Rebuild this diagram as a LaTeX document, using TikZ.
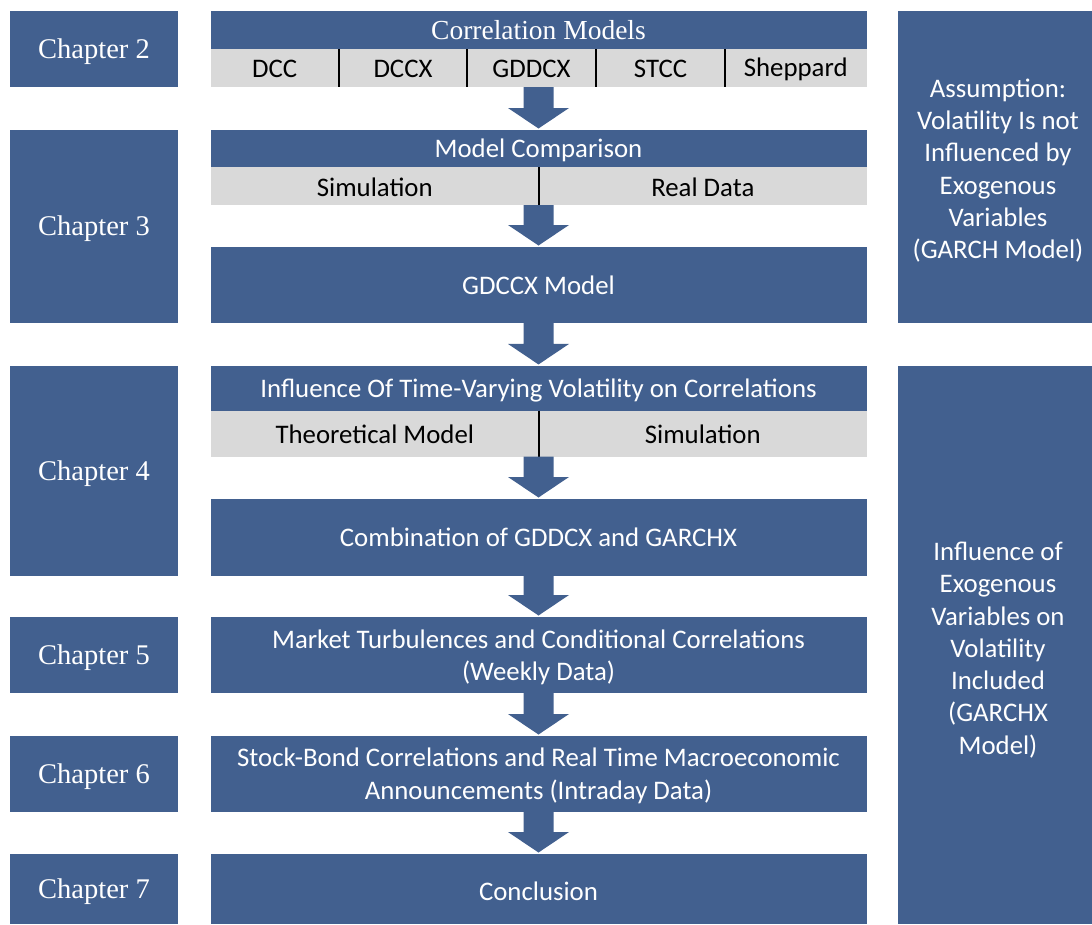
\documentclass[tikz,border=0pt]{standalone}
\usepackage{fontspec}
\setmainfont{Carlito}
\newfontfamily\serifc{Liberation Serif}
\usetikzlibrary{calc}
\definecolor{bluec}{HTML}{42608F}
\definecolor{grayc}{HTML}{D9D9D9}
\tikzset{
  chap/.style={fill=bluec,text=white,font=\serifc\fontsize{28.5}{34}\selectfont,inner sep=0pt,outer sep=0pt,minimum width=168pt},
  chaptext/.style={text=white,font=\serifc\fontsize{28.5}{34}\selectfont,inner sep=0pt},
  boxbase/.style={fill=bluec,text=white,font=\fontsize{26.8}{32.8}\selectfont,align=center,inner sep=0pt,outer sep=0pt,minimum width=656pt},
  mainbox/.style={boxbase,text height=21pt,text depth=1.5pt},
  boxtext/.style={text=white,font=\fontsize{26.8}{32.8}\selectfont,align=center,inner sep=0pt},
  rowbox/.style={fill=grayc,inner sep=0pt,outer sep=0pt,minimum width=656pt},
  cell/.style={text=black,font=\fontsize{26.8}{32}\selectfont,inner sep=0pt,yshift=-1pt},
  sidebox/.style={fill=bluec,inner sep=0pt,outer sep=0pt,minimum width=194pt},
  sidetext/.style={text=white,font=\fontsize{26.8}{32.3}\selectfont,align=center,inner sep=0pt},
  divline/.style={line width=1.6pt,black},
  barrow/.style={fill=bluec}
}
\newcommand\flowarrow[2]{%
  \fill[barrow] ($(#1.south)+(-15,0)$) -- ($(#1.south)+(15,0)$) -- ($(#2.north)+(15,-22)$) -- ($(#2.north)+(30.5,-22)$) -- ($(#2.north)+(0,-1.5)$) -- ($(#2.north)+(-30.5,-22)$) -- ($(#2.north)+(-15,-22)$) -- cycle;}
\begin{document}
\begin{tikzpicture}[x=1pt,y=-1pt]
\useasboundingbox (0,0) rectangle (1092,924);
\fill[white] (0,0) rectangle (1092,924);

% chapter labels
\node[chap,minimum height=76pt,label={[chaptext,yshift=-2.5pt]center:Chapter 2}] (ch2) at (94,49) {};
\node[chap,minimum height=193pt,label={[chaptext,yshift=-2.5pt]center:Chapter 3}] (ch3) at (94,226.5) {};
\node[chap,minimum height=210pt,label={[chaptext,yshift=-2.5pt]center:Chapter 4}] (ch4) at (94,471) {};
\node[chap,minimum height=76pt,label={[chaptext,yshift=-2.5pt]center:Chapter 5}] (ch5) at (94,655) {};
\node[chap,minimum height=76pt,label={[chaptext,yshift=-2.5pt]center:Chapter 6}] (ch6) at (94,774) {};
\node[chap,minimum height=70pt,label={[chaptext,yshift=-2.5pt]center:Chapter 7}] (ch7) at (94,889) {};

% chapter 2
\node[mainbox,minimum height=38pt,font=\serifc\fontsize{27.5}{33}\selectfont,text height=21pt,text depth=1.5pt] (cm) at (538.5,30) {Correlation Models};
\node[rowbox,minimum height=38pt] (cmrow) at (538.5,68) {};
\foreach \o in {128.5,256.5,385.5,514.5}
  \draw[divline] ($(cmrow.north west)+(\o,0)$) -- ($(cmrow.south west)+(\o,0)$);
\node[cell] (dcc) at (274.7,68) {DCC};
\node[cell] (dccx) at (403,68) {DCCX};
\node[cell] (gddcx) at (531.5,68) {GDDCX};
\node[cell] (stcc) at (660.5,68) {STCC};
\node[cell] (shep) at (795.7,68) {Sheppard};

% chapter 3
\node[mainbox,minimum height=37pt,text height=20pt] (mc) at (538.5,148.5) {Model Comparison};
\node[rowbox,minimum height=38pt] (mcrow) at (538.5,186) {};
\draw[divline] ($(mcrow.north west)+(328.5,0)$) -- ($(mcrow.south west)+(328.5,0)$);
\node[cell] (sim1) at (374.8,186) {Simulation};
\node[cell] (real) at (702.8,186) {Real Data};
\node[mainbox,minimum height=76pt] (gdccx) at (538.5,285) {GDCCX Model};

% chapter 4
\node[mainbox,minimum height=44.7pt,text height=20pt] (inf) at (538.5,388.3) {Influence Of Time-Varying Volatility on Correlations};
\node[rowbox,minimum height=46pt] (infrow) at (538.5,433.7) {};
\draw[divline] ($(infrow.north west)+(328.5,0)$) -- ($(infrow.south west)+(328.5,0)$);
\node[cell] (theo) at (374.8,433.7) {Theoretical Model};
\node[cell] (sim2) at (702.8,433.7) {Simulation};
\node[mainbox,minimum height=77pt,text height=20pt] (comb) at (538.5,537.5) {Combination of GDDCX and GARCHX};

% chapters 5-7
\node[boxbase,minimum height=76pt,label={[boxtext,yshift=-2.4pt]center:{Market Turbulences and Conditional Correlations\\(Weekly Data)}}] (mt) at (538.5,655) {};
\node[boxbase,minimum height=76pt,label={[boxtext,yshift=-1.5pt]center:{Stock-Bond Correlations and Real Time Macroeconomic\\Announcements (Intraday Data)}}] (sb) at (538.5,774) {};
\node[mainbox,minimum height=70pt,text height=25pt] (concl) at (538.5,889) {Conclusion};

% side boxes
\node[sidebox,minimum height=312pt,label={[sidetext,xshift=3pt,yshift=-3.5pt]center:{Assumption:\\Volatility Is not\\Influenced by\\Exogenous\\Variables\\(GARCH Model)}}] (r1) at (995,167) {};
\node[sidebox,minimum height=558pt,label={[sidetext,xshift=3pt,yshift=-5pt]center:{Influence of\\Exogenous\\Variables on\\Volatility\\Included\\(GARCHX\\Model)}}] (r2) at (995,645) {};

% arrows
\flowarrow{cmrow}{mc}
\flowarrow{mcrow}{gdccx}
\flowarrow{gdccx}{inf}
\flowarrow{infrow}{comb}
\flowarrow{comb}{mt}
\flowarrow{mt}{sb}
\flowarrow{sb}{concl}
\end{tikzpicture}
\end{document}
